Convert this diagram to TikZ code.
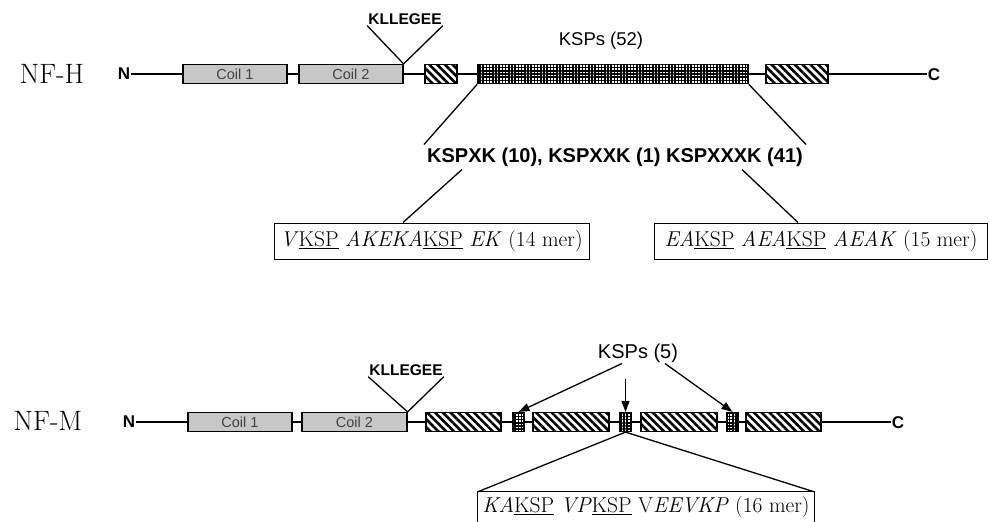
\documentclass[tikz,border=0pt]{standalone}
\usepackage{fontspec}
\newfontfamily\helv{Liberation Sans}
\usetikzlibrary{patterns.meta, arrows.meta, calc}

\begin{document}
\begin{tikzpicture}[
    x=1pt, y=-1pt,
    seg/.style={draw, line width=1.2pt, minimum height=19pt, inner sep=0pt},
    coilbox/.style={seg, fill=black!22, text=black!75,
                    font=\helv\fontsize{14.5}{15}\selectfont},
    hatchbox/.style={seg, preaction={fill=white},
                     pattern={Lines[angle=-45,distance=5.5pt,line width=2.6pt]}},
    kspbox/.style={seg, preaction={fill=white},
                   pattern={Hatch[distance=3.2pt,line width=1.6pt]}},
    term/.style={font=\helv\bfseries\fontsize{17}{17}\selectfont, inner sep=1pt},
    motif/.style={font=\helv\bfseries\fontsize{15.5}{16}\selectfont, inner sep=1pt},
    prot/.style={font=\fontsize{28}{28}\selectfont, inner sep=0pt},
    seqbox/.style={draw, line width=1pt, minimum height=36pt, inner sep=0pt,
                   font=\fontsize{21.5}{22}\selectfont},
    lnk/.style={line width=1.3pt},
    arr/.style={-{Triangle[length=11pt,width=8pt]}, line width=1.3pt},
]
    \useasboundingbox (0,0) rectangle (989,522);

    % NF-H
    \node[prot] (nfh) at (52,74) {NF-H};
    \node[term] (nh) at (124,74) {N};
    \node[term] (ch) at (934,75) {C};
    \draw[lnk] (nh.east) -- (nh.east -| ch.west);
    \node[coilbox, minimum width=104pt] (coilh1) at (235,74) {Coil 1};
    \node[coilbox, minimum width=104pt] (coilh2) at (351,74) {Coil 2};
    \node[hatchbox, minimum width=32pt] (hath1) at (441,74) {};
    \node[kspbox, minimum width=270pt] (gridh) at (613,74) {};
    \node[hatchbox, minimum width=62pt] (hath2) at (797,74) {};

    \node[motif] (kllh) at (405,19) {KLLEGEE};
    \draw[lnk] (kllh.south west) -- (coilh2.north east) -- (kllh.south east);
    \node[font=\helv\fontsize{18.5}{19}\selectfont] (ksph) at (601,41) {KSPs (52)};

    \node[font=\helv\bfseries\fontsize{20}{20}\selectfont, inner sep=3pt] (repeats)
        at (615,157) {KSPXK (10), KSPXXK (1) KSPXXXK (41)};
    \draw[lnk] (gridh.south west) -- (repeats.north west);
    \draw[lnk] (gridh.south east) -- (repeats.north east);

    \node[seqbox, minimum width=315pt] (mer14) at (431.5,241)
        {\textit{V}\underline{KSP} \textit{AKEKA}\underline{KSP} \textit{EK} (14 mer)};
    \node[seqbox, minimum width=333pt] (mer15) at (821,241)
        {\textit{EA}\underline{KSP} \textit{AEA}\underline{KSP} \textit{AEAK} (15 mer)};
    \draw[lnk] ([xshift=-153pt]repeats.south) -- ([xshift=-28.5pt]mer14.north);
    \draw[lnk] ([xshift=127pt]repeats.south) -- ([xshift=-23pt]mer15.north);

    % NF-M
    \node[prot] (nfm) at (48,421) {NF-M};
    \node[term] (nm) at (129,422) {N};
    \node[term] (cm) at (898,423) {C};
    \draw[lnk] (nm.east) -- (nm.east -| cm.west);
    \node[coilbox, minimum width=104pt] (coilm1) at (240,422) {Coil 1};
    \node[coilbox, minimum width=105pt] (coilm2) at (354.5,422) {Coil 2};
    \node[hatchbox, minimum width=75pt] (hatm1) at (463.5,422) {};
    \node[kspbox, minimum width=11pt] (gridm1) at (518.5,422) {};
    \node[hatchbox, minimum width=76pt] (hatm2) at (571,422) {};
    \node[kspbox, minimum width=11pt] (gridm2) at (625.5,422) {};
    \node[hatchbox, minimum width=76pt] (hatm3) at (679,422) {};
    \node[kspbox, minimum width=11pt] (gridm3) at (732.5,422) {};
    \node[hatchbox, minimum width=75pt] (hatm4) at (783.5,422) {};

    \node[motif] (kllm) at (406,370) {KLLEGEE};
    \draw[lnk] (kllm.south west) -- (coilm2.north east) -- (kllm.south east);

    \node[font=\helv\fontsize{20}{20}\selectfont, inner sep=1pt] (kspm) at (638,353) {KSPs (5)};
    \draw[arr] ([xshift=-16pt]kspm.south) -- (gridm1.north);
    \draw[arr] ([yshift=33pt]gridm2.north) -- (gridm2.north);
    \draw[arr] ([xshift=27pt]kspm.south) -- (gridm3.north);

    \node[minimum width=336pt, minimum height=30pt, inner sep=0pt,
          font=\fontsize{21.5}{22}\selectfont] (mer16) at (646,507)
        {\textit{KA}\underline{KSP} \textit{VP}\underline{KSP} V\textit{EEVKP} (16 mer)};
    \draw[line width=1pt] (mer16.south west) -- (mer16.north west)
        -- (mer16.north east) -- (mer16.south east);
    \draw[lnk] (mer16.north west) -- (gridm2.south) -- (mer16.north east);
\end{tikzpicture}
\end{document}
